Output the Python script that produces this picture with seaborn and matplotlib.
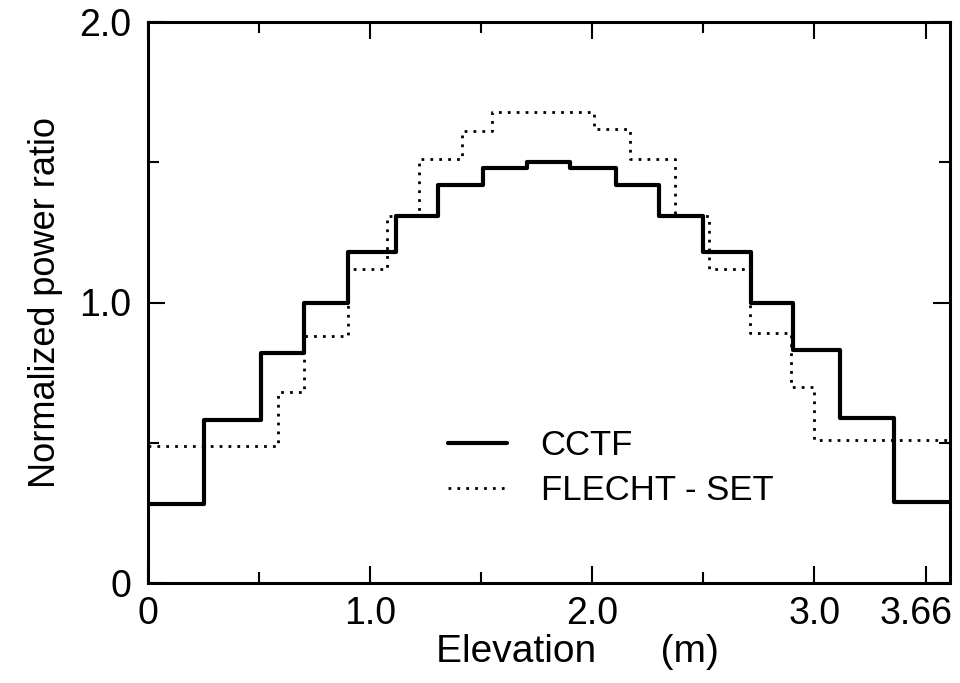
import matplotlib
matplotlib.use("Agg")
import matplotlib.pyplot as plt
import matplotlib.transforms as mtransforms
import seaborn as sns
import pandas as pd
from matplotlib.lines import Line2D

# ---- data ----
cctf_edges = [0.0, 0.253, 0.508, 0.702, 0.90, 1.115, 1.307, 1.507, 1.707,
              1.898, 2.108, 2.302, 2.50, 2.713, 2.905, 3.115, 3.357, 3.61]
cctf_levels = [0.28, 0.58, 0.82, 1.00, 1.18, 1.31, 1.42, 1.48, 1.50,
               1.48, 1.42, 1.31, 1.18, 1.00, 0.83, 0.59, 0.29]

flecht_edges = [0.0, 0.587, 0.702, 0.90, 1.077, 1.22, 1.414, 1.549,
                2.009, 2.171, 2.373, 2.523, 2.71, 2.893, 3.0, 3.61]
flecht_levels = [0.49, 0.68, 0.88, 1.12, 1.31, 1.51, 1.61, 1.68,
                 1.62, 1.51, 1.31, 1.12, 0.89, 0.70, 0.51]

x_tick_pos = [0.0, 1.0, 2.0, 3.0, 3.5]
x_tick_labels = ["0", "1.0", "2.0", "3.0", "3.66"]
y_tick_pos = [0.0, 1.0, 2.0]
y_tick_labels = ["0", "1.0", "2.0"]
series_names = ["CCTF", "FLECHT - SET"]

# ---- tables ----
df_c = pd.DataFrame({"x": cctf_edges, "y": cctf_levels + [cctf_levels[-1]]})
df_f = pd.DataFrame({"x": flecht_edges, "y": flecht_levels + [flecht_levels[-1]]})

sns.set_style("ticks")
plt.rcParams["font.family"] = ["Liberation Sans", "DejaVu Sans"]
for k in ["text.color", "axes.labelcolor", "xtick.color", "ytick.color",
          "axes.edgecolor"]:
    plt.rcParams[k] = "black"

fig = plt.figure(figsize=(9.6, 6.83), dpi=100)
ax = fig.add_axes([148 / 960, 100 / 683, 802 / 960, 561 / 683])

sns.lineplot(data=df_c, x="x", y="y", ax=ax, drawstyle="steps-post",
             estimator=None, color="black", linewidth=3.0, sort=False)
sns.lineplot(data=df_f, x="x", y="y", ax=ax, drawstyle="steps-post",
             estimator=None, color="black", linewidth=2.0,
             linestyle=(0, (1, 2.2)), sort=False)

ax.set_xlim(0, 3.61)
ax.set_ylim(0, 2.0)

ax.set_xticks(x_tick_pos)
ax.set_xticklabels(x_tick_labels)
ax.set_xticks([0.5, 1.5, 2.5], minor=True)
ax.set_yticks(y_tick_pos)
ax.set_yticklabels(y_tick_labels)
ax.set_yticks([0.5, 1.5], minor=True)

ax.tick_params(axis="both", which="major", direction="in", length=12, width=1.5,
               labelsize=27, top=True, right=True)
ax.tick_params(axis="x", which="major", pad=9)
ax.tick_params(axis="y", which="major", pad=12)
ax.tick_params(axis="both", which="minor", direction="in", length=8, width=1.5,
               top=True, right=True)

for s in ax.spines.values():
    s.set_visible(True)
    s.set_linewidth(2.2)
    s.set_color("black")

# nudge the last x label so it stays inside the figure, as in the reference
last = ax.get_xticklabels()[-1]
last.set_transform(last.get_transform() +
                   mtransforms.ScaledTranslation(-9 / 100, 0, fig.dpi_scale_trans))

ax.set_xlabel("Elevation      (m)", fontsize=28, labelpad=2, x=0.535)
ax.set_ylabel("Normalized power ratio", fontsize=26, labelpad=12)

handles = [Line2D([], [], color="black", linewidth=3.0),
           Line2D([], [], color="black", linewidth=2.0, linestyle=(0, (1, 2.2)))]
ax.legend(handles, series_names, loc="center left",
          bbox_to_anchor=(0.352, 0.205), frameon=False, fontsize=25,
          handlelength=1.7, handletextpad=0.98, borderpad=0,
          labelspacing=0.35)

fig.savefig("out.png", dpi=100, facecolor="white")
